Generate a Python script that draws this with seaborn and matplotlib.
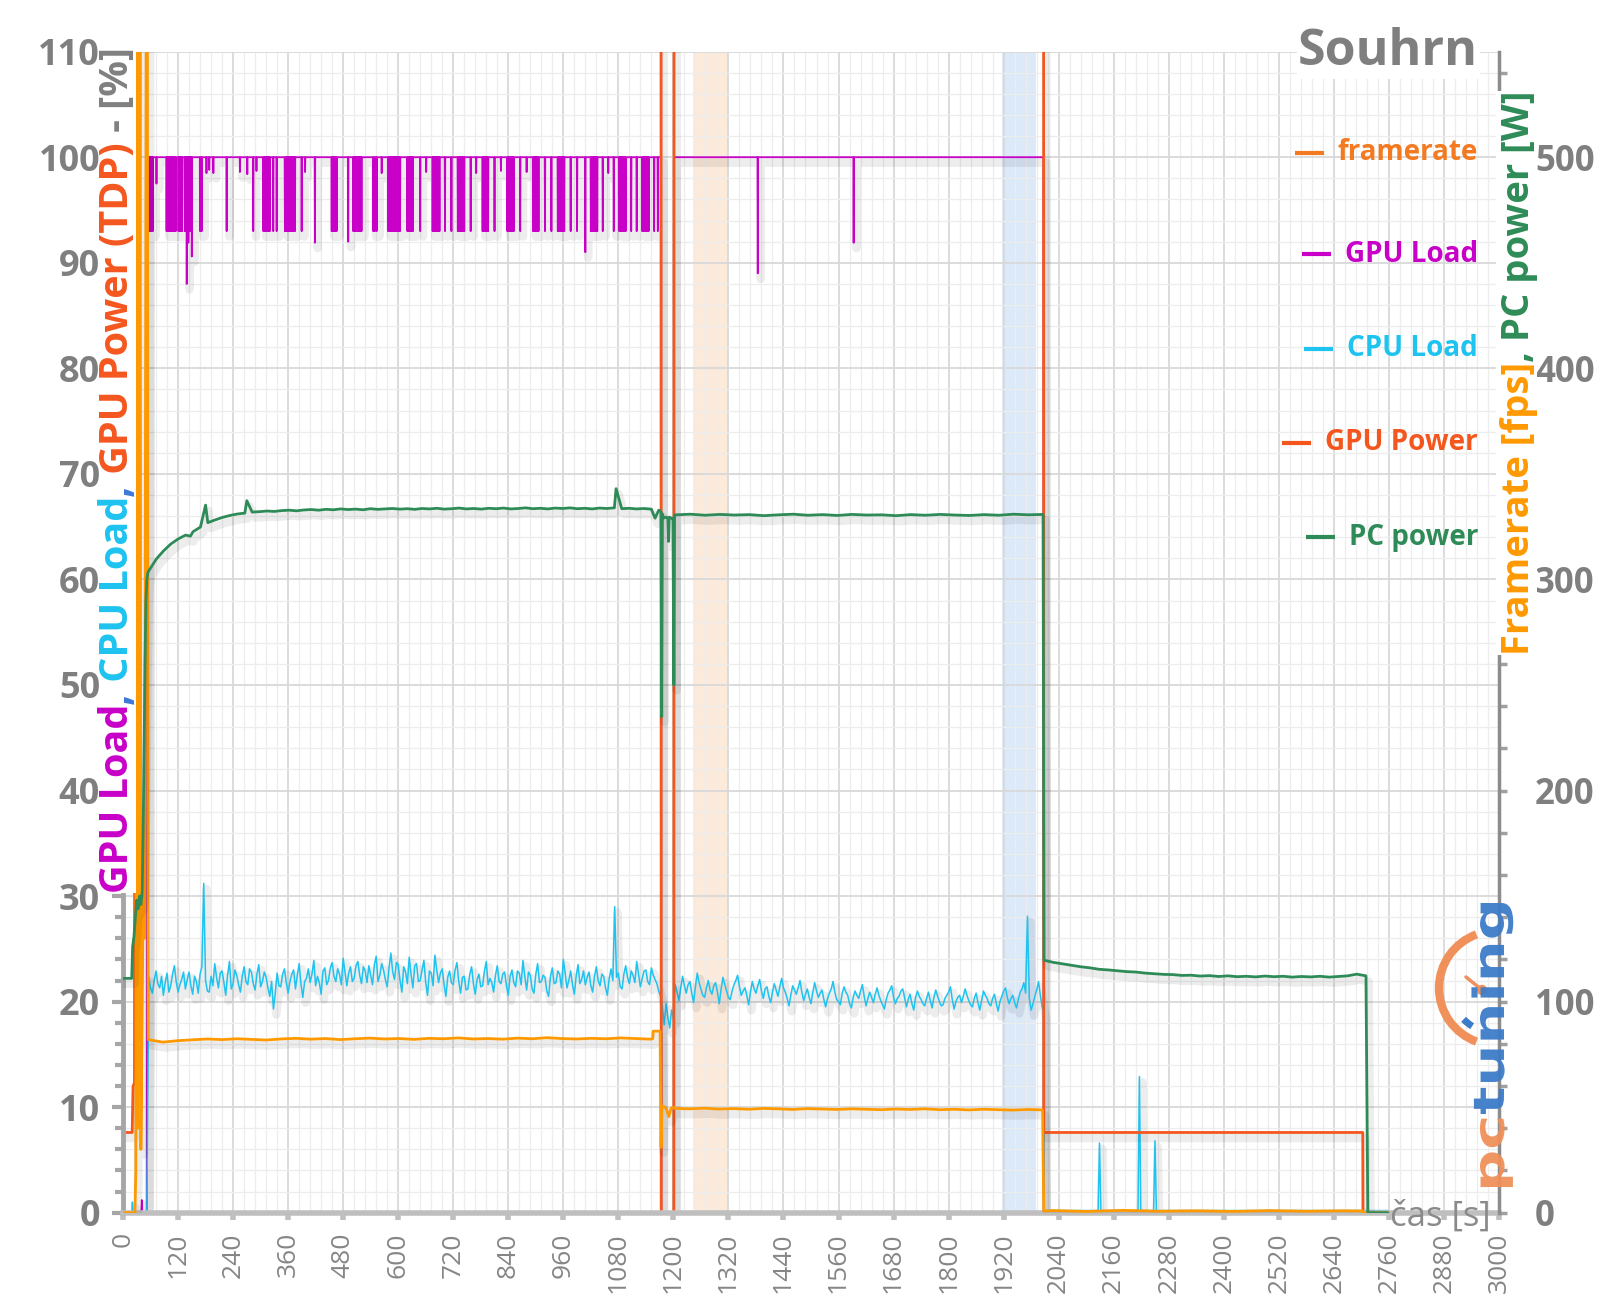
import numpy as np
import pandas as pd
import matplotlib
matplotlib.use("Agg")
import matplotlib.pyplot as plt
import matplotlib.patheffects as pe
import matplotlib.transforms as mtransforms
import seaborn as sns
from matplotlib.ticker import MultipleLocator
from matplotlib.patches import Arc, Circle, Rectangle, PathPatch
from matplotlib.textpath import TextPath
from matplotlib.font_manager import FontProperties

# ------------------------------------------------------------------ data
x_ticks = list(range(0, 3001, 120))
y_left_ticks = list(range(0, 111, 10))
y_right_ticks = list(range(0, 501, 100))

# GPU Load [%] : step outline + dips
gpu_load_base_t = [0, 40, 41, 42, 52, 54, 1173, 1173.5, 1201, 1201.5, 2007, 2007.5, 2758]
gpu_load_base_v = [0, 0, 1.2, 0, 0, 100, 100, 0, 0, 100, 100, 0, 0]
gpu_dip_t = [57, 59, 61, 63, 65, 73,
             95, 97, 99, 101, 103, 105, 107, 109, 111, 113, 115,
             121, 123, 125, 127, 129, 135, 137, 139, 141, 142.5, 144, 146, 148, 150,
             168, 171.5, 182, 188, 197, 226, 255, 271, 284, 291,
             306, 308, 310, 312, 314, 316, 318, 320, 327.6, 335,
             353, 355, 357, 359, 361, 363, 365, 367, 369, 371, 373, 375,
             389.5, 397, 418.5, 455, 457, 459, 461, 463, 465.7, 491,
             502, 504, 506, 508, 510, 512, 514, 516, 518, 520, 545.6, 549, 553, 564,
             578, 580, 582, 584, 586, 588, 590, 592, 594, 596, 598, 600, 602, 604,
             620, 622, 624, 626, 628, 630, 632, 648, 661, 675, 677, 679, 681, 683, 685, 687, 690,
             702, 716, 730, 732, 734, 736, 738, 740, 742, 744, 758, 770,
             784, 786, 788, 790, 792, 794, 796, 810, 824, 838, 840, 842, 844, 846, 848, 850, 852,
             866, 880, 894, 896, 898, 900, 902, 904, 906, 920, 934,
             948, 950, 952, 954, 956, 958, 960, 962, 976, 990, 1008,
             1020, 1022, 1024, 1026, 1028, 1030, 1032, 1034, 1046, 1058, 1070,
             1082, 1084, 1086, 1088, 1090, 1092, 1094, 1096, 1108, 1120,
             1132, 1134, 1136, 1138, 1140, 1142, 1144, 1146, 1158, 1166,
             1384, 1593]
gpu_dip_v = [93, 93, 93, 93, 93, 97.5,
             93, 93, 93, 93, 93, 93, 93, 93, 93, 93, 93,
             93, 93, 93, 93, 93, 93, 93, 88, 93, 91.9, 93, 93, 93, 90.6,
             93, 93, 98.5, 98.8, 98.5, 93, 98.6, 98.4, 93, 98.7,
             93, 93, 93, 93, 93, 93, 93, 93, 93, 93,
             93, 93, 93, 93, 93, 93, 93, 93, 93, 93, 93, 93,
             93, 98.6, 91.9, 93, 93, 93, 93, 93, 93, 92,
             93, 93, 93, 93, 93, 93, 93, 93, 93, 93, 93, 93, 93, 98.5,
             93, 93, 93, 93, 93, 93, 93, 93, 93, 93, 93, 93, 93, 93,
             93, 93, 93, 93, 93, 93, 93, 93, 98.6, 93, 93, 93, 93, 93, 93, 93, 93,
             93, 93, 93, 93, 93, 93, 93, 93, 93, 93, 93, 98.5,
             93, 93, 93, 93, 93, 93, 93, 93, 98.7, 93, 93, 93, 93, 93, 93, 93, 93,
             93, 98.6, 93, 93, 93, 93, 93, 93, 93, 93, 93,
             93, 93, 93, 93, 93, 93, 93, 93, 93, 93, 91.0,
             93, 93, 93, 93, 93, 93, 93, 93, 93, 98.5, 93,
             93, 93, 93, 93, 93, 93, 93, 93, 93, 93,
             93, 93, 93, 93, 93, 93, 93, 93, 93, 93,
             89.0, 91.9]

# CPU Load [%]
cpu_start_t = [0, 19, 20.5, 22, 52]
cpu_start_v = [0, 0, 1.0, 0, 0]
cpu_seg1_v = [22.4, 20.8, 22.9, 21.3, 20.6, 22.7, 21.5, 23.4, 20.9, 22.1,
              21.2, 22.8, 20.7, 21.9, 22.6, 31.2, 21.0, 22.4, 23.6, 21.3,
              22.9, 20.6, 23.8, 21.7, 22.5, 20.9, 23.3, 21.6, 22.8, 21.1,
              23.5, 21.9, 22.3, 20.5, 19.3, 22.7, 21.4, 23.1, 20.8, 22.6,
              21.2, 23.6, 20.4, 22.2, 21.8, 23.9, 22.4, 20.7, 23.2, 22.0,
              23.7, 21.9, 22.6, 24.1, 21.5, 23.3, 22.2, 23.8, 21.7, 22.9,
              23.4, 21.6, 24.3, 22.5, 23.0, 21.4, 24.6, 22.1, 23.5, 20.9,
              22.8, 24.2, 21.3, 23.6, 22.0, 23.9, 20.6, 22.7, 24.4, 21.8,
              23.1, 20.5, 22.9, 21.6, 23.7, 20.8, 22.4, 21.2, 23.3, 20.7,
              22.6, 21.5, 23.8, 22.2, 20.9, 23.4, 21.7, 22.8, 20.6, 23.0,
              21.4, 22.7, 23.9, 21.1, 22.5, 20.8, 23.6, 21.9, 22.3, 20.5,
              23.2, 21.8, 22.6, 24.0, 21.3, 22.9, 20.7, 23.5, 22.1, 21.6,
              22.8, 20.9, 23.3, 21.5, 22.4, 20.6, 23.1, 29.0, 22.7, 21.2,
              23.4, 21.7, 22.5, 23.8, 21.4, 22.9, 21.9, 23.2, 22.1, 21.0]
cpu_seg1_mid_v = [21.3, 22.0, 21.7, 22.4, 21.8, 20.9, 22.6, 21.9, 21.6, 22.8,
                  22.1, 21.5, 22.4, 20.8, 23.3, 22.0, 20.9, 21.5, 22.3, 22.7,
                  21.8, 22.5, 21.2, 23.0, 21.6, 22.4, 21.9, 23.1, 21.7, 22.6,
                  21.4, 22.8, 21.3, 21.9, 20.8, 21.5, 22.6, 21.8, 21.9, 23.0,
                  22.5, 21.7, 21.9, 23.1, 22.6, 21.5, 21.8, 22.9, 21.6, 23.2,
                  22.4, 23.1, 21.6, 22.8, 22.7, 21.9, 23.4, 22.5, 23.3, 21.8,
                  22.5, 23.5, 21.9, 23.6, 22.1, 23.2, 22.8, 23.7, 22.0, 23.3,
                  21.7, 22.6, 23.4, 21.9, 23.0, 21.8, 22.9, 21.5, 23.0, 22.7,
                  21.6, 22.3, 21.8, 23.0, 21.9, 22.3, 21.1, 22.6, 21.7, 22.1,
                  21.4, 22.9, 21.6, 21.8, 22.5, 21.9, 22.6, 21.5, 22.4, 21.8,
                  22.9, 21.6, 22.4, 22.8, 21.2, 22.6, 21.8, 22.5, 21.0, 22.4,
                  21.7, 22.9, 21.3, 22.7, 22.0, 21.6, 22.4, 21.7, 22.9, 22.3,
                  21.5, 22.4, 22.0, 22.6, 21.3, 22.2, 22.0, 22.3, 21.4, 22.6,
                  22.3, 22.9, 21.8, 22.6, 22.2, 23.0, 21.6, 22.5, 21.7]
cpu_seg1_range = (56, 1168)
cpu_gap_t = [1172, 1176, 1180, 1184, 1188, 1192, 1196, 1200]
cpu_gap_v = [20.5, 19.5, 17.8, 19.8, 18.5, 17.5, 19.2, 18.4]
cpu_seg2_v = [21.6, 20.1, 22.4, 20.8, 21.9, 19.9, 22.7, 21.2, 20.4, 22.0,
              20.7, 21.8, 19.8, 22.3, 21.0, 20.2, 21.6, 22.5, 20.6, 21.3,
              19.7, 21.9, 20.8, 22.1, 20.3, 21.4, 19.9, 21.7, 20.5, 22.2,
              20.9, 19.6, 21.5, 20.7, 22.0, 20.1, 21.2, 19.8, 21.8, 20.4,
              21.1, 19.5, 20.8, 21.9, 20.2, 19.7, 21.4, 20.6, 19.4, 21.0,
              20.3, 21.6, 19.6, 20.9, 19.9, 21.3, 20.1, 19.3, 20.8, 21.5,
              19.8, 20.5, 21.2, 19.5, 20.7, 19.2, 21.0, 20.2, 19.6, 20.9,
              19.4, 21.1, 20.0, 19.7, 20.6, 21.4, 19.3, 20.4, 19.9, 21.2,
              20.1, 19.5, 20.8, 19.2, 21.0, 20.3, 19.6, 20.7, 19.1, 20.5,
              21.3, 19.8, 20.6, 19.4, 20.9, 21.8, 28.1, 19.2, 20.5, 21.9,
              19.5]
cpu_seg2_mid_v = [20.9, 21.3, 21.5, 21.6, 20.8, 21.4, 21.8, 20.6, 21.3, 21.1,
                  21.5, 20.9, 21.2, 21.6, 20.4, 21.0, 22.0, 21.4, 21.0, 20.6,
                  20.9, 21.2, 21.5, 21.0, 21.2, 20.5, 20.9, 21.1, 21.4, 21.3,
                  20.3, 20.6, 21.1, 21.3, 20.9, 20.7, 20.4, 20.9, 21.0, 20.8,
                  20.2, 20.3, 21.2, 20.9, 20.0, 20.8, 20.9, 19.8, 20.4, 20.6,
                  21.0, 20.5, 20.3, 20.4, 20.7, 20.6, 19.7, 20.2, 21.1, 20.4,
                  20.3, 21.0, 20.4, 20.2, 19.8, 20.4, 20.5, 19.8, 20.3, 20.1,
                  20.4, 20.5, 19.6, 20.3, 20.9, 20.2, 20.0, 20.6, 20.5, 20.6,
                  19.7, 20.3, 19.9, 20.1, 20.6, 19.8, 20.3, 19.8, 20.0, 21.0,
                  20.4, 20.3, 19.9, 20.2, 21.2, 20.8, 20.3, 19.8, 21.1, 20.6]
cpu_seg2_range = (1204, 2004)
cpu_end_t = [2007, 2008, 2126, 2129, 2132, 2213, 2216, 2219, 2247, 2250, 2253, 2758]
cpu_end_v = [19.0, 0.2, 0.2, 6.6, 0.2, 0.2, 12.9, 0.2, 0.2, 6.8, 0.2, 0.2]

# GPU Power [% TDP] (values above 110 run off the chart)
gpu_pow_t = [0, 20, 22, 25, 27, 1173, 1173.5, 1201, 1201.5, 2007, 2007.5, 2703, 2703.5, 2758]
gpu_pow_v = [7.6, 7.6, 12.0, 12.3, 150, 150, 0, 0, 150, 150, 7.6, 7.6, 0, 0]

# Framerate [fps]
fps_start_t = [0, 26, 28, 30, 32, 35, 37, 39, 44, 47, 51, 53]
fps_start_v = [0, 0, 20, 620, 40, 140, 620, 30, 150, 130, 620, 620]
fps_seg1_v = [82.0, 80.8, 81.5, 81.9, 82.3, 82.0, 82.4, 82.1, 81.8, 82.3,
              82.6, 82.2, 82.5, 82.0, 82.4, 82.7, 82.3, 82.5, 82.1, 82.6,
              82.4, 82.8, 82.3, 82.5, 82.2, 82.7, 82.4, 82.9, 82.5, 82.3,
              82.6, 82.4, 82.8, 82.5, 82.2]
fps_seg1_range = (55, 1150)
fps_gap_t = [1155, 1156, 1171, 1173, 1175, 1180, 1185, 1190, 1195, 1200]
fps_gap_v = [82.5, 86.0, 86.0, 31.0, 50.5, 50.2, 49.0, 45.5, 49.5, 50.0]
fps_seg2_v = [49.4, 49.2, 49.5, 49.1, 49.3, 49.0, 49.4, 49.2, 48.9, 49.3,
              49.1, 48.9, 49.2, 49.0, 48.8, 49.1, 48.9, 49.2, 48.8, 49.0,
              48.7, 49.0, 48.8, 48.6, 48.9, 48.7]
fps_seg2_range = (1204, 2005)
fps_end_t = [2007.5, 2030, 2100, 2180, 2260, 2340, 2420, 2500, 2580, 2660, 2703, 2704, 2758]
fps_end_v = [0.8, 1.0, 0.6, 1.1, 0.7, 0.9, 0.6, 1.0, 0.7, 0.9, 0.8, 0, 0]

# PC power [W]
pc_start_t = [0, 19, 21, 24, 27, 30, 33, 36, 39, 42, 45, 48, 50, 52, 54]
pc_start_v = [111, 111, 126, 131, 140, 148, 144, 150, 146, 152, 200, 260, 290, 300, 303]
pc_seg1_v = [304.0, 309.5, 313.5, 316.8, 319.2, 321.0, 322.6, 324.8, 326.9, 328.2,
             329.4, 330.3, 331.0, 331.4, 331.9, 332.1, 332.4, 332.2, 332.6, 332.8,
             332.5, 332.9, 333.1, 332.8, 333.2, 333.0, 333.4, 333.1, 333.3, 333.0,
             333.5, 333.2, 333.4, 333.6, 333.3, 333.5, 333.2, 333.6, 333.4, 333.7,
             333.3, 333.5, 333.8, 333.4, 333.6, 333.3, 333.7, 333.5, 333.8, 333.4,
             333.6, 333.9, 333.5, 333.7, 333.4, 333.8, 333.6, 333.9, 333.5, 333.7,
             333.4, 333.8, 333.6, 333.9, 333.5, 333.7, 333.4, 333.6, 333.3, 332.8]
pc_seg1_range = (56, 1168)
pc_spike_t = [147, 180, 270, 1075, 1160]
pc_spike_v = [320.5, 335.2, 337.3, 343.0, 329.0]
pc_gap_t = [1171, 1173, 1174.5, 1176, 1178, 1183, 1188, 1189.5, 1191, 1196, 1199, 1201, 1202.5]
pc_gap_v = [332.5, 332.0, 235.0, 331.0, 329.0, 329.5, 329.0, 318.0, 329.5, 329.0, 329.0, 250.0, 330.5]
pc_seg2_v = [330.6, 330.9, 330.4, 330.8, 330.5, 330.7, 330.2, 330.6, 330.9, 330.4,
             330.7, 330.3, 330.8, 330.5, 330.6, 330.2, 330.7, 330.4, 330.8, 330.5,
             330.3, 330.7, 330.4, 330.9, 330.6, 330.8]
pc_seg2_range = (1205, 2006)
pc_seg3_v = [119.6, 118.6, 117.9, 117.2, 116.5, 116.0, 115.3, 115.0, 114.6, 114.2,
             114.0, 113.5, 113.2, 112.9, 112.8, 112.4, 112.5, 112.1, 112.3, 111.9,
             112.2, 111.8, 112.0, 111.7, 112.1, 111.8, 112.0, 111.6, 111.9, 111.7,
             112.0, 111.6, 111.9, 112.2, 113.0, 112.2]
pc_seg3_range = (2008, 2710)
pc_end_t = [2714, 2758]
pc_end_v = [0, 0]

# highlighted intervals [s]
band_orange = (1242, 1318)
band_blue = (1916, 1991)

legend_labels = ["framerate", "GPU Load", "CPU Load", "GPU Power", "PC power"]

# ------------------------------------------------------------------ colours
C_FPS = "#FF9900"
C_FPS_TXT = "#F37A20"
C_GPU = "#C800C8"
C_CPU = "#1EC3F0"
C_POW = "#F4561E"
C_PC = "#2E8B57"
C_GRAY = "#808080"


def seg(range_, values):
    t = np.linspace(range_[0], range_[1], len(values))
    return list(t), list(values)


def seg_mid(range_, values):
    # values sampled half-way between the points of a regular segment
    t = np.linspace(range_[0], range_[1], len(values) + 1)
    return list((t[:-1] + t[1:]) / 2), list(values)


def assemble(*parts):
    t, v = [], []
    for pt, pv in parts:
        t += list(pt)
        v += list(pv)
    order = np.argsort(np.asarray(t, dtype=float), kind="stable")
    return np.asarray(t, float)[order], np.asarray(v, float)[order]


dip_t, dip_v = [], []
for td, vd in zip(gpu_dip_t, gpu_dip_v):
    dip_t += [td - 0.6, td, td + 0.6]
    dip_v += [100, vd, 100]
gpu_t, gpu_v = assemble((gpu_load_base_t, gpu_load_base_v), (dip_t, dip_v))

cpu_t, cpu_v = assemble((cpu_start_t, cpu_start_v), seg(cpu_seg1_range, cpu_seg1_v),
                        seg_mid(cpu_seg1_range, cpu_seg1_mid_v),
                        (cpu_gap_t, cpu_gap_v), seg(cpu_seg2_range, cpu_seg2_v),
                        seg_mid(cpu_seg2_range, cpu_seg2_mid_v),
                        (cpu_end_t, cpu_end_v))
fps_t, fps_v = assemble((fps_start_t, fps_start_v), seg(fps_seg1_range, fps_seg1_v),
                        (fps_gap_t, fps_gap_v), seg(fps_seg2_range, fps_seg2_v),
                        (fps_end_t, fps_end_v))
pc_t, pc_v = assemble((pc_start_t, pc_start_v), seg(pc_seg1_range, pc_seg1_v),
                      (pc_spike_t, pc_spike_v), (pc_gap_t, pc_gap_v),
                      seg(pc_seg2_range, pc_seg2_v), seg(pc_seg3_range, pc_seg3_v),
                      (pc_end_t, pc_end_v))

# ------------------------------------------------------------------ figure
sns.set_theme(style="white")
plt.rcParams["font.family"] = ["Open Sans", "DejaVu Sans"]

W, H = 1600, 1301
fig = plt.figure(figsize=(W / 100, H / 100), dpi=100)
fig.patch.set_facecolor("white")
L, R, T, B = 123, 1499, 51.7, 1212.7
ax = fig.add_axes([L / W, 1 - B / H, (R - L) / W, (B - T) / H])
ax2 = ax.twinx()

ax.set_xlim(0, 3000)
ax.set_ylim(0, 110)
ax2.set_ylim(0, 550)

ax.axvspan(*band_orange, color="#FCE4D0", alpha=0.75, lw=0, zorder=0.5)
ax.axvspan(*band_blue, color="#D6E6F8", alpha=0.85, lw=0, zorder=0.5)

ax.set_xticks(x_ticks)
ax.xaxis.set_minor_locator(MultipleLocator(24))
ax.set_yticks(y_left_ticks)
ax.yaxis.set_minor_locator(MultipleLocator(2))
ax.grid(which="major", color="#D9D9D9", lw=1.3)
ax.grid(which="minor", color="#EDEDED", lw=0.9)
ax.set_axisbelow(True)

shadow = [pe.SimpleLineShadow(offset=(2, -4), shadow_color="#000000", alpha=0.07, linewidth=6),
          pe.Normal()]

sns.lineplot(x=gpu_t, y=gpu_v, ax=ax, color=C_GPU, lw=1.3, estimator=None, sort=False)
sns.lineplot(x=cpu_t, y=cpu_v, ax=ax, color=C_CPU, lw=1.1, estimator=None, sort=False)
sns.lineplot(x=gpu_pow_t, y=gpu_pow_v, ax=ax, color=C_POW, lw=2.0, estimator=None, sort=False)
sns.lineplot(x=fps_t, y=fps_v, ax=ax2, color=C_FPS, lw=2.0, estimator=None, sort=False)
sns.lineplot(x=pc_t, y=pc_v, ax=ax2, color=C_PC, lw=2.0, estimator=None, sort=False)
for a in (ax, ax2):
    for ln in a.get_lines():
        ln.set_path_effects(shadow)

for a in (ax, ax2):
    a.set_xlabel("")
    a.set_ylabel("")
    if a.get_legend():
        a.get_legend().remove()

for a in (ax, ax2):
    a.spines["top"].set_visible(False)
ax.spines["left"].set_color("#A6A6A6")
ax.spines["left"].set_linewidth(3.5)
ax.spines["bottom"].set_color("#BFBFBF")
ax.spines["bottom"].set_linewidth(4)
ax.spines["right"].set_visible(False)
ax2.spines["left"].set_visible(False)
ax2.spines["bottom"].set_visible(False)
ax2.spines["right"].set_color("#8C8C8C")
ax2.spines["right"].set_linewidth(2.5)

ax.tick_params(axis="y", which="major", direction="out", length=8, width=3, color="#A6A6A6",
               pad=8.5, labelsize=26, labelcolor="#7F7F7F", left=True)
ax.tick_params(axis="y", which="minor", direction="out", length=6, width=3, color="#A6A6A6", left=True)
ax.tick_params(axis="x", which="major", direction="out", length=5, width=4, color="#BFBFBF",
               pad=9, labelsize=19, labelcolor="#868686", labelrotation=90, bottom=True)
ax.tick_params(axis="x", which="minor", length=0)
for lbl in ax.get_yticklabels():
    lbl.set_fontweight("bold")

ax2.set_yticks(y_right_ticks)
ax2.yaxis.set_minor_locator(MultipleLocator(20))
ax2.tick_params(axis="y", which="major", direction="out", length=6, width=2.5, color="#A0A0A0",
                pad=20, labelsize=25, labelcolor="#7F7F7F", right=True)
ax2.tick_params(axis="y", which="minor", direction="out", length=6, width=2.5, color="#A0A0A0", right=True)
for lbl in ax2.get_yticklabels():
    lbl.set_fontweight("bold")
ax2.grid(False)

# ------------------------------------------------------------------ overlay texts
ov = fig.add_axes([0, 0, 1, 1], zorder=10)
ov.set_xlim(0, W)
ov.set_ylim(H, 0)
ov.axis("off")
ov.patch.set_alpha(0)
renderer = fig.canvas.get_renderer()


def stack_vertical(x, y_bottom, pieces, size, cover):
    y = y_bottom
    for s, c in pieces:
        t = ov.text(x, y, s, rotation=90, ha="center", va="bottom", fontsize=size,
                    fontweight="bold", color=c, zorder=3)
        y -= t.get_window_extent(renderer).height
    x0, x1 = cover
    ov.add_patch(Rectangle((x0, y), x1 - x0, y_bottom - y, fc="white", ec="none", zorder=2))


stack_vertical(118, 893, [("GPU Load", C_GPU), (",", "#3C78D8"), (" CPU Load", C_CPU),
                          (",", "#3C78D8"), (" GPU Power (TDP)", C_POW), (" - [%]", C_GRAY)],
               28.5, (102, 136))
stack_vertical(1519, 655, [("Framerate [fps]", C_FPS), (", PC power [W]", C_PC)], 27.5, (1496, 1537))

ov.text(1478, 65, "Souhrn", ha="right", va="baseline", fontsize=36, fontweight="bold",
        color="#7F7F7F", bbox=dict(facecolor="white", edgecolor="none", pad=1))

leg_colors = [C_FPS_TXT, C_GPU, C_CPU, C_POW, C_PC]
leg_y = [153, 254, 349, 443, 537]
for lab, col, yy in zip(legend_labels, leg_colors, leg_y):
    t = ov.text(1478, yy, lab, ha="right", va="center", fontsize=20, fontweight="bold", color=col)
    x0 = t.get_window_extent(renderer).x0
    ov.plot([x0 - 43, x0 - 14], [yy, yy], color=col, lw=3, solid_capstyle="butt")

ov.text(1491, 1226, "čas [s]", ha="right", va="baseline", fontsize=25, color="#8A8A8A")

# logo (pctuning)
ov.add_patch(Arc((1496, 988), 114, 114, theta1=110, theta2=250, color="#F0905A", lw=6, zorder=4))
ov.add_patch(Arc((1496, 988), 90, 90, theta1=122, theta2=136, color="#3D7CC9", lw=5, zorder=4))
ov.plot([1482, 1466], [990, 977], color="#F0905A", lw=2.5, zorder=4)
ov.add_patch(Circle((1482, 990), 4.5, color="#F0905A", zorder=4))

fp = FontProperties(family="DejaVu Sans", weight="bold")
tp_pc = TextPath((0, 0), "pc", size=10, prop=fp)
tp_tu = TextPath((0, 0), "tuning", size=10, prop=fp)
tp_all = TextPath((0, 0), "pctuning", size=10, prop=fp)
xh = TextPath((0, 0), "n", size=10, prop=fp).get_extents().height
total = tp_all.get_extents().x1
sx = 289.0 / total
sy = 24.0 / xh
adv_pc = total - tp_tu.get_extents().x1
base_x_disp = 1504
start_y_disp = H - 1192
for path, col, off in ((tp_pc, "#F0905A", 0.0), (tp_tu, "#3D7CC9", adv_pc)):
    tr = (mtransforms.Affine2D().translate(off, 0).scale(sx, sy).rotate_deg(90)
          .translate(base_x_disp, start_y_disp))
    patch = PathPatch(tr.transform_path(path), fc=col, ec="none",
                      transform=mtransforms.IdentityTransform(), zorder=5, alpha=0.95)
    ov.add_patch(patch)

fig.savefig("out.png", dpi=100)
